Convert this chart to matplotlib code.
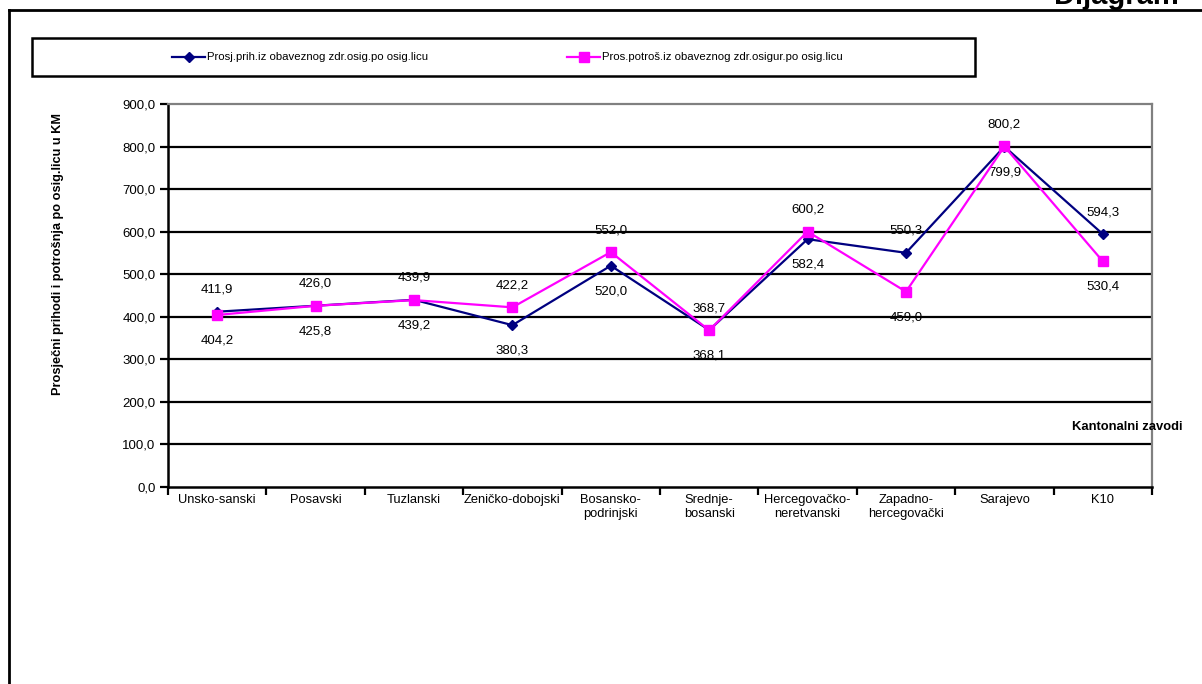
import matplotlib
matplotlib.use("Agg")
import matplotlib.pyplot as plt
from matplotlib.lines import Line2D
from matplotlib.patches import Rectangle
import numpy as np

plt.rcParams['font.family'] = ['Liberation Sans', 'DejaVu Sans']

categories = ["Unsko-sanski", "Posavski", "Tuzlanski", "Zeničko-dobojski",
              "Bosansko-\npodrinjski", "Srednje-\nbosanski", "Hercegovačko-\nneretvanski",
              "Zapadno-\nhercegovački", "Sarajevo", "K10"]
prihodi = [411.9, 426.0, 439.9, 380.3, 520.0, 368.7, 582.4, 550.3, 799.9, 594.3]
potrosnja = [404.2, 425.8, 439.2, 422.2, 552.0, 368.1, 600.2, 459.0, 800.2, 530.4]
series_names = ["Prosj.prih.iz obaveznog zdr.osig.po osig.licu",
                "Pros.potroš.iz obaveznog zdr.osigur.po osig.licu"]
y_ticks = [0, 100, 200, 300, 400, 500, 600, 700, 800, 900]

W, H = 1202, 684
fig = plt.figure(figsize=(W / 100, H / 100), dpi=100)

def fx(px):
    return px / W

def fy(py):
    return 1 - py / H

ax = fig.add_axes([fx(168), fy(487), fx(1152) - fx(168), fy(104) - fy(487)])
n = len(categories)
x = np.arange(n)
ax.set_xlim(-0.5, n - 0.5)
ax.set_ylim(0, 900)

# gridlines
for v in y_ticks[1:-1]:
    ax.axhline(v, color='black', lw=1.6, zorder=1)

ax.plot(x, prihodi, color='#000080', lw=1.6, marker='D', markersize=5.5, zorder=3)
ax.plot(x, potrosnja, color='#FF00FF', lw=1.6, marker='s', markersize=7, zorder=4)

# data labels: larger value above, smaller below
for i in range(n):
    a, b = prihodi[i], potrosnja[i]
    hi, lo = (a, b) if a >= b else (b, a)
    ax.annotate(f"{hi:.1f}".replace('.', ','), (x[i], hi), xytext=(0, 11.5),
                textcoords='offset points', ha='center', va='bottom', fontsize=9.5)
    ax.annotate(f"{lo:.1f}".replace('.', ','), (x[i], lo), xytext=(0, -14),
                textcoords='offset points', ha='center', va='top', fontsize=9.5)

ax.set_yticks(y_ticks)
ax.set_yticklabels([f"{v:.1f}".replace('.', ',') for v in y_ticks], fontsize=9.5)
ax.set_xticks(np.arange(-0.5, n, 1.0))
ax.set_xticklabels([])
ax.set_xticks(x, minor=True)
ax.set_xticklabels(categories, minor=True, fontsize=9.3)
ax.tick_params(axis='x', which='minor', length=0, pad=5)
ax.tick_params(axis='x', which='major', length=6, width=1.6, direction='out')
ax.tick_params(axis='y', length=6, width=1.6, direction='out', pad=3)

ax.spines['left'].set_linewidth(1.8)
ax.spines['bottom'].set_linewidth(1.8)
ax.spines['top'].set_color('#808080')
ax.spines['right'].set_color('#808080')
ax.spines['top'].set_linewidth(1.6)
ax.spines['right'].set_linewidth(1.6)

fig.text(fx(58), fy(254), "Prosječni prihodi i potrošnja po osig.licu u KM",
         rotation=90, ha='center', va='center', fontsize=9.2, fontweight='bold')

fig.text(fx(1182), fy(427), "Kantonalni zavodi", ha='right', va='center',
         fontsize=9.4, fontweight='bold', zorder=10)

# legend box
fig.patches.append(Rectangle((fx(32), fy(76)), fx(975) - fx(32), fy(38) - fy(76),
                             transform=fig.transFigure, fill=False, ec='black', lw=1.8))
ly = fy(57)
fig.lines.append(Line2D([fx(172), fx(205)], [ly, ly], transform=fig.transFigure,
                        color='#000080', lw=1.6))
fig.lines.append(Line2D([fx(188.5)], [ly], transform=fig.transFigure,
                        color='#000080', marker='D', markersize=5, lw=0))
fig.text(fx(207), ly, series_names[0], ha='left', va='center', fontsize=8.2)
fig.lines.append(Line2D([fx(567), fx(600)], [ly, ly], transform=fig.transFigure,
                        color='#FF00FF', lw=1.6))
fig.lines.append(Line2D([fx(583.5)], [ly], transform=fig.transFigure,
                        color='#FF00FF', marker='s', markersize=6.5, lw=0))
fig.text(fx(602), ly, series_names[1], ha='left', va='center', fontsize=8.2)

# outer frame
fig.lines.append(Line2D([fx(9), fx(9)], [fy(10), 0], transform=fig.transFigure,
                        color='black', lw=2))
fig.lines.append(Line2D([fx(9), 1], [fy(10), fy(10)], transform=fig.transFigure,
                        color='black', lw=2))

fig.text(fx(1179), fy(3.5), "Dijagram", ha='right', va='baseline', fontsize=21,
         fontweight='bold')

fig.savefig("out.png", dpi=100)
